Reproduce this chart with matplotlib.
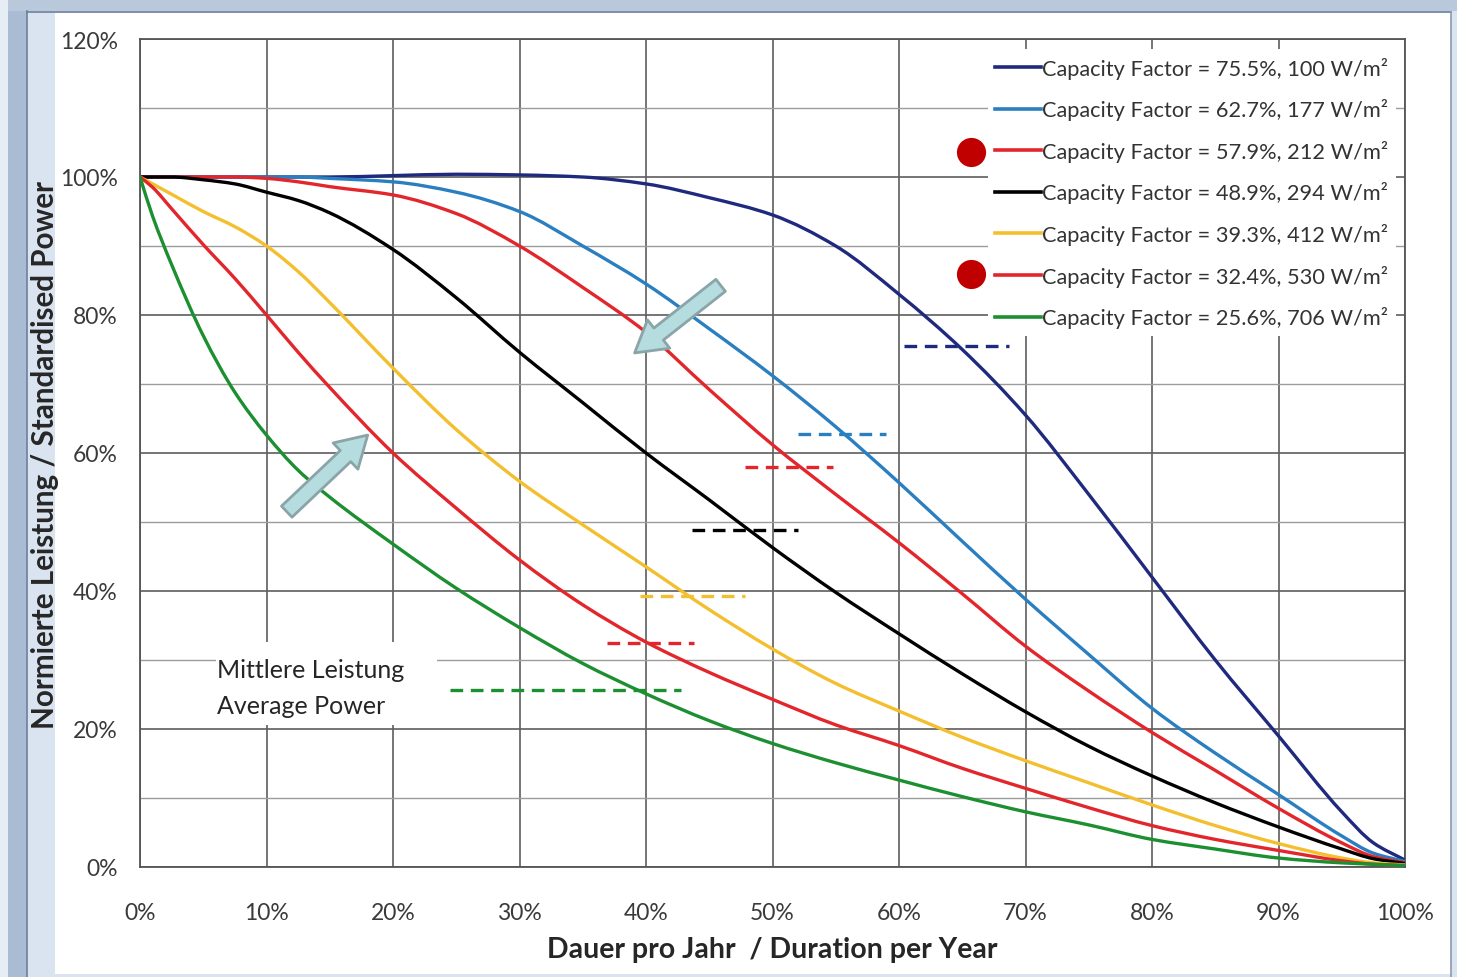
import matplotlib
matplotlib.use("Agg")
import numpy as np
import matplotlib.pyplot as plt
from matplotlib.patches import Rectangle, FancyArrowPatch, PathPatch
from matplotlib.path import Path
from matplotlib.lines import Line2D
from matplotlib.ticker import MultipleLocator, FuncFormatter

plt.rcParams['font.family'] = ['Lato', 'DejaVu Sans']

# Duration per year (%)
duration = [0, 1, 2.5, 5, 7.5, 10, 12.5, 15, 20, 25, 30, 35, 40, 45, 50,
            55, 60, 65, 70, 75, 80, 85, 90, 95, 97.5, 100]

# Normalised power (%) for each site / capacity factor
p_100 = [100, 100, 100, 100, 100, 100, 100, 100, 100.2, 100.4, 100.3, 100, 99, 97, 94.5,
         90, 83, 75, 65.5, 54, 42, 30, 19, 8, 3.5, 1]
p_177 = [100, 100, 100, 100, 100, 100, 100, 99.8, 99.3, 97.8, 95, 90, 84.5, 78, 71.2,
         63.8, 55.7, 47.2, 38.8, 30.8, 23, 16.5, 10.5, 4.5, 2, 0.8]
p_212 = [100, 100, 100, 100, 100, 99.8, 99.3, 98.6, 97.4, 94.7, 90, 84, 77.5, 69.2, 61.2,
         54, 47, 39.6, 32, 25.5, 19.5, 14, 8.5, 3.5, 1.5, 0.6]
p_294 = [100, 100, 100, 99.6, 99, 97.8, 96.6, 94.8, 89.5, 82.5, 74.6, 67.3, 60, 53.2, 46.3,
         39.8, 33.8, 28, 22.5, 17.5, 13.2, 9.3, 5.8, 2.6, 1.2, 0.5]
p_412 = [100, 99, 97.5, 95, 92.8, 90, 86.3, 81.8, 72.3, 63.4, 55.9, 49.6, 43.5, 37.3, 31.6,
         26.6, 22.6, 18.8, 15.4, 12.2, 9, 6, 3.4, 1.3, 0.6, 0.3]
p_530 = [100, 98.5, 95.4, 90.2, 85.3, 80, 74.6, 69.5, 60, 52, 44.5, 38, 32.6, 28.2, 24.3,
         20.6, 17.6, 14.3, 11.4, 8.6, 6, 4, 2.4, 0.9, 0.4, 0.2]
p_706 = [100, 94.3, 87.3, 77, 68.8, 62.6, 57.5, 53.6, 46.8, 40.4, 34.7, 29.5, 25.1, 21.2, 17.9,
         15.1, 12.6, 10.2, 8, 6.1, 4, 2.6, 1.3, 0.6, 0.4, 0.2]

capacity_factor = [75.5, 62.7, 57.9, 48.9, 39.3, 32.4, 25.6]
power_density = [100, 177, 212, 294, 412, 530, 706]
series = [p_100, p_177, p_212, p_294, p_412, p_530, p_706]
colors = ['#1f2a7e', '#2a7fc1', '#e3262b', '#000000', '#f4bf2e', '#e3262b', '#1c8f30']

# Horizontal extent of each average-power marker (% duration)
avg_start = [60.4, 52.0, 47.8, 43.6, 39.5, 36.9, 24.5]
avg_end = [68.7, 59.0, 54.8, 52.0, 47.8, 43.8, 42.8]


def smooth_path(x, y):
    """Smoothed line through the points as cubic Bezier segments
    (monotone Hermite tangents, like a spreadsheet's smoothed line)."""
    x = np.asarray(x, float)
    y = np.asarray(y, float)
    h = np.diff(x)
    d = np.diff(y) / h
    m = np.zeros_like(y)
    m[0], m[-1] = d[0], d[-1]
    for i in range(1, len(y) - 1):
        if d[i - 1] * d[i] <= 0:
            m[i] = 0.0
        else:
            w1 = 2 * h[i] + h[i - 1]
            w2 = h[i] + 2 * h[i - 1]
            m[i] = (w1 + w2) / (w1 / d[i - 1] + w2 / d[i])
    verts = [(x[0], y[0])]
    codes = [Path.MOVETO]
    for i in range(len(x) - 1):
        verts += [(x[i] + h[i] / 3, y[i] + m[i] * h[i] / 3),
                  (x[i + 1] - h[i] / 3, y[i + 1] - m[i + 1] * h[i] / 3),
                  (x[i + 1], y[i + 1])]
        codes += [Path.CURVE4] * 3
    return Path(verts, codes)


W, H = 1457, 978
fig = plt.figure(figsize=(W / 100, H / 100), dpi=100)
fig.patch.set_facecolor('#dae4f0')


# slide / page background
def px_rect(x0, y0, x1, y1, color, z=-10):
    fig.patches.append(Rectangle((x0 / W, 1 - y1 / H), (x1 - x0) / W, (y1 - y0) / H,
                                 transform=fig.transFigure, facecolor=color,
                                 edgecolor='none', zorder=z))


def px_line(xs, ys, color):
    fig.lines.append(Line2D([v / W for v in xs], [1 - v / H for v in ys],
                            transform=fig.transFigure, color=color, lw=1.2, zorder=-5))


px_rect(0, 0, 8, H, '#e7edf5')
px_rect(8, 0, 27, H, '#a9bcd4')
px_rect(8, 0, W, 12, '#b9c8db')
px_rect(55, 14, 1451, H - 3, '#ffffff')
px_line([27, 27], [12, H], '#6d819a')
px_line([27, 1451], [13, 13], '#6d819a')
px_line([1451, 1451], [13, H], '#8a9bb0')

ax = fig.add_axes([140 / W, 110 / H, 1265 / W, 828 / H])
ax.set_facecolor('none')
ax.set_xlim(0, 100)
ax.set_ylim(0, 120)
ax.set_axisbelow(True)

ax.xaxis.set_major_locator(MultipleLocator(10))
ax.yaxis.set_major_locator(MultipleLocator(20))
ax.yaxis.set_minor_locator(MultipleLocator(10))
pct = FuncFormatter(lambda v, _: f"{v:.0f}%")
ax.xaxis.set_major_formatter(pct)
ax.yaxis.set_major_formatter(pct)
ax.tick_params(axis='both', which='both', length=0, labelsize=16.5, labelcolor='#3a3a3a')
ax.tick_params(axis='x', pad=25)
ax.tick_params(axis='y', pad=16)

ax.grid(True, which='major', axis='both', color='#5e5e5e', lw=1.2)
ax.grid(True, which='minor', axis='y', color='#9c9c9c', lw=1.0)
for s in ax.spines.values():
    s.set_color('#555555')
    s.set_linewidth(1.3)

# white box behind the average-power caption
ax.add_patch(Rectangle((6.0, 20.6), 17.5, 12.0, facecolor='white', edgecolor='none', zorder=1))
ax.text(6.1, 28.6, "Mittlere Leistung", fontsize=18, color='#262626', va='center', ha='left', zorder=2)
ax.text(6.1, 23.4, "Average Power", fontsize=18, color='#262626', va='center', ha='left', zorder=2)

handles = []
for vals, col, cf, pd_ in zip(series, colors, capacity_factor, power_density):
    ax.add_patch(PathPatch(smooth_path(duration, vals), fill=False, edgecolor=col,
                           lw=2.4, capstyle='round', joinstyle='round', zorder=3))
    handles.append(Line2D([], [], color=col, lw=2.6,
                          label=f"Capacity Factor = {cf}%, {pd_} W/m\u00b2"))

for cf, x0, x1, col in zip(capacity_factor, avg_start, avg_end, colors):
    ax.plot([x0, x1], [cf, cf], color=col, lw=2.4, dashes=(3.8, 2.3), zorder=3)

leg = ax.legend(handles=handles, loc='upper left', bbox_to_anchor=(0.670, 0.988),
                fontsize=15.7, frameon=True, fancybox=False, framealpha=1,
                edgecolor='none', facecolor='white', handlelength=2.1,
                handletextpad=0.05, labelspacing=0.9, borderpad=0.35,
                borderaxespad=0)
leg.set_zorder(5)
for t in leg.get_texts():
    t.set_color('#333333')

# markers for the two highlighted sites
ax.plot([65.7, 65.7], [103.6, 85.9], 'o', ms=21, color='#c00000', mec='none',
        ls='none', zorder=6, clip_on=False)

# pointer arrows
arrow_style = "Simple,head_length=22,head_width=26,tail_width=11"
for (xa, ya), (xb, yb) in [((45.9, 84.3), (39.1, 74.5)), ((11.6, 51.5), (18.0, 62.6))]:
    ax.add_patch(FancyArrowPatch((xa, ya), (xb, yb), arrowstyle=arrow_style,
                                 mutation_scale=1, facecolor='#b5dcdf', edgecolor='#8aa4a7',
                                 lw=2, shrinkA=0, shrinkB=0, zorder=7))

ax.set_xlabel("Dauer pro Jahr  / Duration per Year", fontsize=20.5, fontweight='bold',
              color='#262626', va='center')
ax.xaxis.set_label_coords(0.5, (868 - 950) / 828)
ax.set_ylabel("Normierte Leistung / Standardised Power", fontsize=21.3, fontweight='bold',
              color='#262626', va='center')
ax.yaxis.set_label_coords((45 - 140) / 1265, (868 - 455) / 828)

fig.savefig("out.png", dpi=100, facecolor=fig.get_facecolor())
